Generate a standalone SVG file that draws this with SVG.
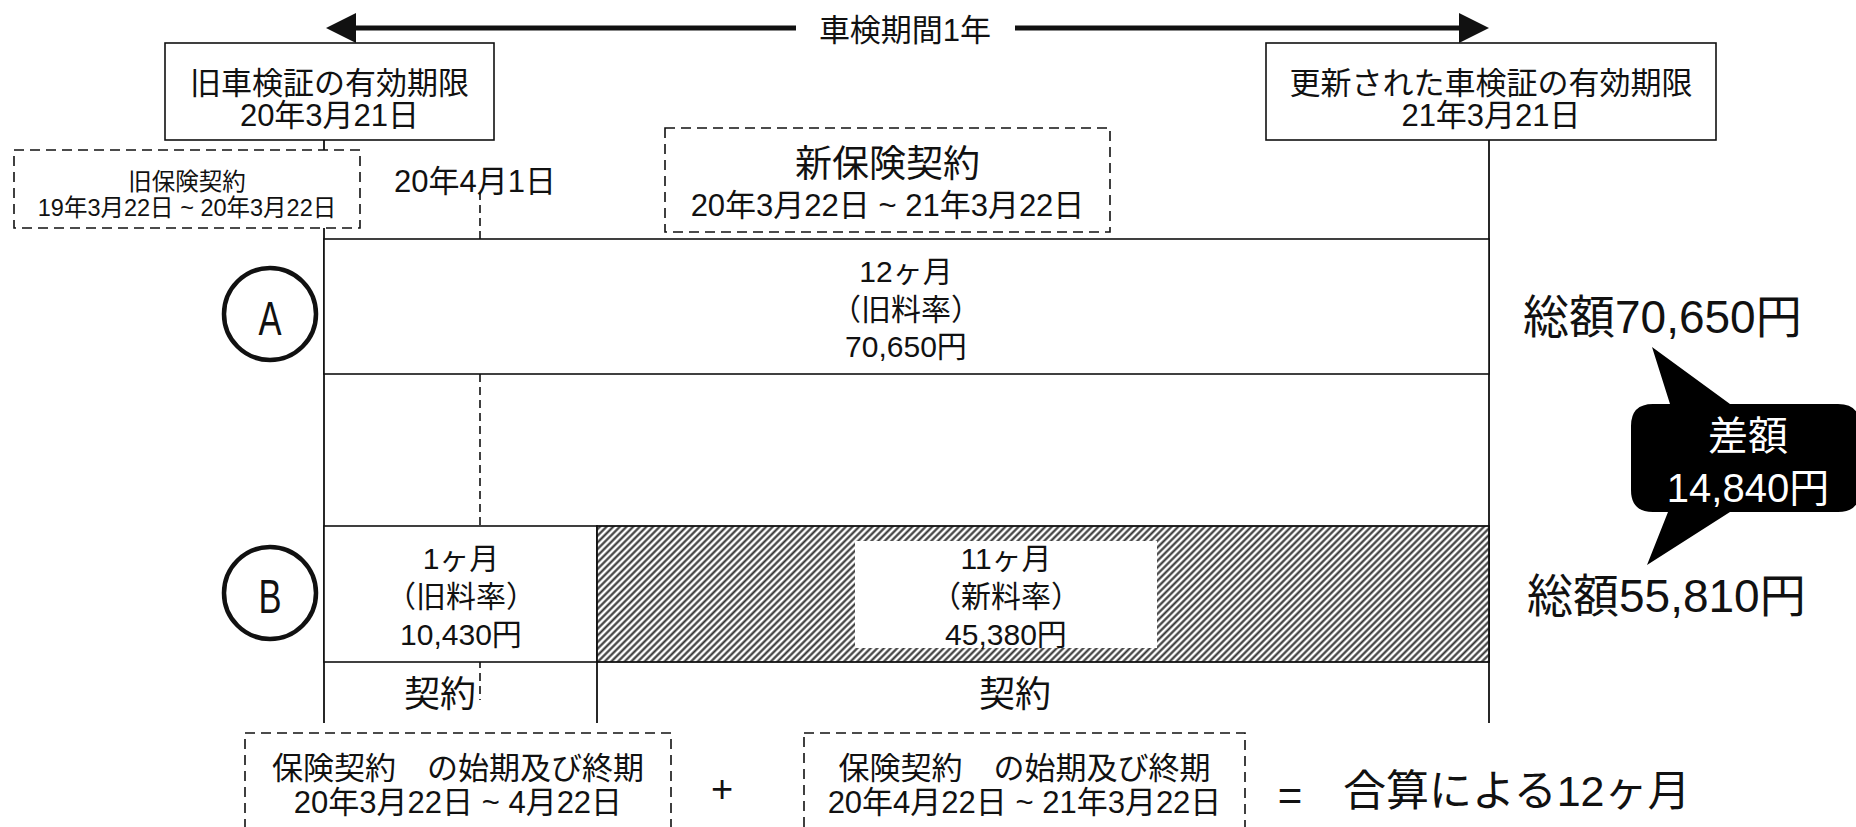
<svg xmlns="http://www.w3.org/2000/svg" width="1856" height="827" viewBox="0 0 1856 827">
<style>
text{font-family:"Liberation Sans","Noto Sans CJK JP",sans-serif;fill:#111;}
.c{text-anchor:middle;}
.box{fill:#fff;stroke:#111;stroke-width:1.6;}
.dbox{fill:#fff;stroke:#111;stroke-width:1.6;stroke-dasharray:10 6;}
.ln{stroke:#111;stroke-width:1.8;fill:none;}
.dln{stroke:#111;stroke-width:1.6;stroke-dasharray:8 5;fill:none;}
.f31{font-size:31px;}
.f30{font-size:30px;}
.f24{font-size:23.5px;}
.circ{fill:#fff;stroke:#111;stroke-width:4.5;}
</style>
<defs>
<pattern id="hatch" width="4.7" height="4.7" patternUnits="userSpaceOnUse" patternTransform="rotate(45)">
<rect width="4.7" height="4.7" fill="#fff"/>
<line x1="2.35" y1="0" x2="2.35" y2="4.7" stroke="#333" stroke-width="2.1"/>
</pattern>
</defs>
<rect width="1856" height="827" fill="#fff"/>

<g id="connectors">
<line class="ln" x1="324" y1="140" x2="324" y2="723"/>
<line class="ln" x1="1489" y1="140" x2="1489" y2="723"/>
<line class="ln" x1="597" y1="526" x2="597" y2="723"/>
<line class="dln" x1="480" y1="192" x2="480" y2="700"/>
<line x1="352" y1="28" x2="796" y2="28" stroke="#111" stroke-width="5"/>
<line x1="1015" y1="28" x2="1463" y2="28" stroke="#111" stroke-width="5"/>
<polygon points="326,28 356,13 356,43" fill="#111"/>
<polygon points="1489,28 1459,13 1459,43" fill="#111"/>
</g>

<g id="period-label">
<text class="c f31" x="905" y="41">車検期間1年</text>
</g>

<g id="old-inspection">
<rect class="box" x="165" y="43" width="329" height="97"/>
<text class="c f31" x="329.5" y="94">旧車検証の有効期限</text>
<text class="c f31" x="329.5" y="126">20年3月21日</text>
</g>

<g id="new-inspection">
<rect class="box" x="1266" y="43" width="450" height="97"/>
<text class="c f31" x="1491" y="94">更新された車検証の有効期限</text>
<text class="c f31" x="1491" y="126">21年3月21日</text>
</g>

<g id="old-insurance">
<rect class="dbox" x="14" y="150" width="346" height="78"/>
<text class="c f24" x="187" y="190">旧保険契約</text>
<text class="c f24" x="187" y="216">19年3月22日 ~ 20年3月22日</text>
</g>

<g id="date-apr1">
<text class="c f31" x="475" y="192">20年4月1日</text>
</g>

<g id="new-insurance">
<rect class="dbox" x="665" y="128" width="445" height="104"/>
<text class="c" x="887.5" y="177" font-size="37">新保険契約</text>
<text class="c f31" x="887.5" y="216">20年3月22日 ~ 21年3月22日</text>
</g>

<g id="row-a">
<rect class="box" x="324" y="239" width="1165" height="135"/>
<text class="c f30" x="906" y="282">12ヶ月</text>
<text class="c f30" x="906" y="320">（旧料率）</text>
<text class="c f30" x="906" y="357">70,650円</text>
</g>

<g id="label-a">
<circle class="circ" cx="270" cy="314" r="46"/>
<text class="c" font-size="48" transform="translate(270,335) scale(0.72,1)" x="0" y="0">A</text>
</g>

<g id="row-b-old">
<rect class="box" x="324" y="526" width="273" height="136"/>
<text class="c f30" x="461" y="569">1ヶ月</text>
<text class="c f30" x="461" y="607">（旧料率）</text>
<text class="c f30" x="461" y="645">10,430円</text>
</g>

<g id="row-b-new">
<rect x="597" y="526" width="892" height="136" fill="url(#hatch)" stroke="#111" stroke-width="1.8"/>
<rect x="855" y="541" width="302" height="107" fill="#fff"/>
<text class="c f30" x="1006" y="569">11ヶ月</text>
<text class="c f30" x="1006" y="607">（新料率）</text>
<text class="c f30" x="1006" y="645">45,380円</text>
</g>

<g id="label-b">
<circle class="circ" cx="270" cy="593" r="46"/>
<text class="c" font-size="48" transform="translate(270,613) scale(0.72,1)" x="0" y="0">B</text>
</g>

<g id="contract-labels">
<text class="c" x="440" y="707" font-size="36">契約</text>
<text class="c" x="1015" y="707" font-size="36">契約</text>
</g>

<g id="totals">
<text x="1523" y="333" font-size="46">総額70,650円</text>
<text x="1527" y="612" font-size="46">総額55,810円</text>
</g>

<g id="difference-callout">
<path d="M1653,404 L1670,404 L1652,347 L1730,404 L1838,404 Q1860,404 1860,426 L1860,490 Q1860,512 1838,512 L1730,512 L1647,565 L1668,512 L1653,512 Q1631,512 1631,490 L1631,426 Q1631,404 1653,404 Z" fill="#000"/>
<text class="c" x="1748" y="450" font-size="40" style="fill:#fff">差額</text>
<text class="c" x="1748" y="502" font-size="40" style="fill:#fff">14,840円</text>
</g>

<g id="period-1">
<rect class="dbox" x="245" y="733" width="426" height="110"/>
<text class="c f31" x="458" y="779">保険契約　の始期及び終期</text>
<text class="c f31" x="458" y="813">20年3月22日 ~ 4月22日</text>
</g>

<g id="plus">
<text class="c" x="722" y="802" font-size="38">+</text>
</g>

<g id="period-2">
<rect class="dbox" x="804" y="733" width="441" height="110"/>
<text class="c f31" x="1024.5" y="779">保険契約　の始期及び終期</text>
<text class="c f31" x="1024.5" y="813">20年4月22日 ~ 21年3月22日</text>
</g>

<g id="equals">
<text class="c" x="1290" y="810" font-size="42">=</text>
<text x="1343" y="806" font-size="43">合算による12ヶ月</text>
</g>
</svg>
